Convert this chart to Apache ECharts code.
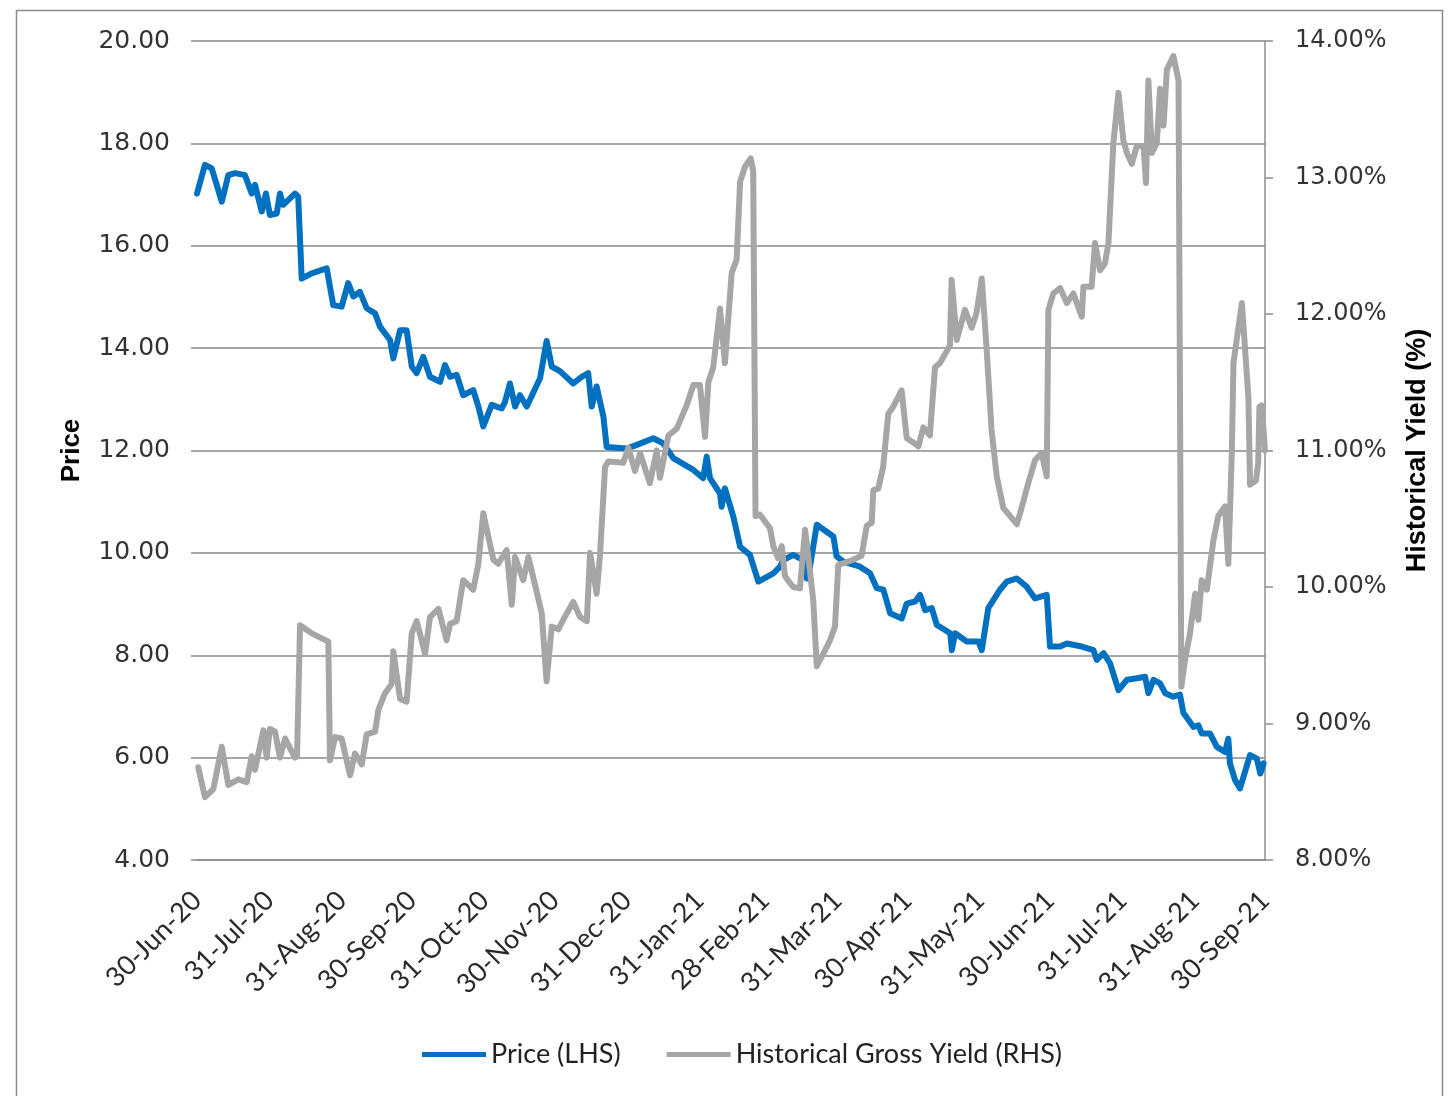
<!DOCTYPE html>
<html>
<head>
<meta charset="utf-8">
<script src="https://cdn.jsdelivr.net/npm/echarts@6/dist/echarts.min.js"></script>
<style>
html,body{margin:0;padding:0;background:#fff;}
#chart{width:1449px;height:1096px;}
</style>
</head>
<body>
<div id="chart"></div>
<script>
// Start date of the series (30-Jun-2020); x values are days after it
var startDate = '2020-06-30';

// Month-end tick dates and their labels
var tickDates = ['2020-06-30','2020-07-31','2020-08-31','2020-09-30','2020-10-31','2020-11-30','2020-12-31','2021-01-31','2021-02-28','2021-03-31','2021-04-30','2021-05-31','2021-06-30','2021-07-31','2021-08-31','2021-09-30'];
var tickLabels = ['30-Jun-20','31-Jul-20','31-Aug-20','30-Sep-20','31-Oct-20','30-Nov-20','31-Dec-20','31-Jan-21','28-Feb-21','31-Mar-21','30-Apr-21','31-May-21','30-Jun-21','31-Jul-21','31-Aug-21','30-Sep-21'];

// Price (LHS)
var priceDays = [0,3.4,6.3,10.6,13.4,16.3,20.5,23.4,24.8,27.7,29.5,31.2,34.1,35.5,36.9,41.9,43.3,44.8,49.1,55.5,58.3,61.9,64.7,66.9,69.7,72.6,76.2,78.3,82.6,84.0,86.9,89.7,91.9,94.0,96.8,99.7,104.0,106.1,108.3,111.1,113.9,118.2,120.4,122.5,126.1,130.4,131.8,133.9,136.1,138.2,141.1,146.8,149.6,151.8,155.3,161.0,164.6,167.4,168.9,171.0,173.9,175.3,183.9,188.2,195.3,199.5,203.8,212.4,216.6,218.1,219.5,223.8,224.5,225.9,229.5,232.4,236.6,240.2,246.6,249.5,250.9,255.1,259.4,260.9,262.3,265.2,272.3,273.7,276.6,281.6,283.7,288.0,290.9,293.7,296.6,301.6,303.7,307.3,309.4,311.6,314.4,316.6,322.3,323.0,324.4,329.4,334.4,335.8,338.6,343.6,346.5,350.8,355.0,358.6,363.6,365.0,369.3,372.2,378.6,383.6,385.0,387.9,390.7,394.3,397.9,402.1,405.7,407.1,409.3,412.1,414.3,417.8,420.6,422.1,426.4,428.5,430.0,433.5,436.4,439.9,441.3,442.0,444.2,446.3,450.6,453.5,455.0,456.4];
var priceValues = [17.02,17.58,17.51,16.86,17.38,17.42,17.38,17.02,17.19,16.67,17.02,16.60,16.63,17.02,16.80,17.02,16.96,15.36,15.46,15.56,14.84,14.81,15.27,15.01,15.10,14.78,14.68,14.42,14.16,13.80,14.35,14.35,13.64,13.51,13.83,13.44,13.34,13.67,13.44,13.48,13.08,13.18,12.86,12.47,12.89,12.82,12.95,13.31,12.86,13.08,12.86,13.41,14.14,13.64,13.55,13.31,13.44,13.51,12.86,13.25,12.66,12.07,12.04,12.11,12.24,12.14,11.85,11.62,11.46,11.88,11.46,11.16,10.90,11.26,10.71,10.12,9.96,9.44,9.60,9.73,9.86,9.96,9.86,9.50,9.73,10.55,10.32,9.93,9.83,9.76,9.73,9.60,9.31,9.28,8.82,8.72,9.01,9.05,9.18,8.88,8.92,8.59,8.43,8.10,8.43,8.27,8.27,8.10,8.92,9.28,9.44,9.50,9.34,9.11,9.18,8.17,8.17,8.23,8.17,8.10,7.91,8.04,7.84,7.32,7.52,7.55,7.58,7.26,7.52,7.45,7.26,7.19,7.23,6.87,6.60,6.63,6.47,6.47,6.21,6.11,6.37,5.89,5.56,5.40,6.05,5.98,5.69,5.89];

// Historical Gross Yield (RHS), in %
var yieldDays = [0.5,3.4,7.0,10.6,13.4,17.7,21.3,23.4,24.8,28.4,29.8,31.2,33.4,35.5,37.7,41.9,42.8,44.1,49.1,56.2,56.9,59.1,61.9,65.5,67.6,70.5,72.6,76.2,77.6,80.4,83.3,84.0,86.9,89.7,91.9,94.0,97.6,99.7,103.3,106.8,108.3,111.1,113.9,118.2,120.4,122.5,126.8,128.9,132.5,134.7,136.1,139.6,141.8,147.5,149.6,151.8,154.6,156.7,161.0,163.9,166.8,168.2,171.0,172.4,174.6,176.0,182.4,184.6,187.4,189.6,193.8,196.7,198.1,201.7,205.3,209.5,212.4,215.2,217.4,218.8,220.9,223.8,225.9,228.8,230.9,232.4,234.5,236.9,238.0,239.0,240.9,245.2,246.6,248.7,250.2,251.6,253.7,255.1,258.0,260.2,261.6,263.7,265.2,268.0,270.9,273.0,274.4,275.9,280.8,284.4,286.6,288.7,289.4,291.5,293.6,295.8,297.9,301.5,303.7,307.3,308.7,310.8,313.6,315.8,317.9,322.2,322.9,325.1,328.6,331.5,333.6,335.8,337.9,340.0,342.2,345.0,350.8,352.2,355.7,358.6,361.4,363.6,364.3,366.4,369.3,372.2,375.0,378.6,379.3,382.8,384.3,386.4,388.5,390.0,392.1,394.3,396.4,397.9,400.0,402.1,405.0,406.1,407.1,408.6,410.7,412.1,413.6,415.0,417.8,420.0,421.2,422.8,424.9,427.1,428.5,429.9,432.1,434.9,437.0,439.9,441.3,442.8,443.5,447.1,449.9,450.6,453.1,454.1,454.6,455.6,457.0];
var yieldValues = [8.68,8.46,8.52,8.83,8.55,8.59,8.57,8.76,8.66,8.95,8.75,8.96,8.94,8.75,8.89,8.75,8.76,9.72,9.66,9.60,8.73,8.90,8.89,8.62,8.78,8.70,8.92,8.94,9.10,9.22,9.29,9.53,9.18,9.16,9.66,9.75,9.51,9.78,9.84,9.61,9.73,9.75,10.05,9.98,10.17,10.54,10.20,10.17,10.27,9.87,10.22,10.05,10.22,9.81,9.31,9.71,9.69,9.76,9.89,9.78,9.75,10.25,9.95,10.22,10.88,10.92,10.91,11.02,10.85,10.98,10.76,11.00,10.80,11.11,11.16,11.33,11.48,11.48,11.10,11.50,11.61,12.04,11.64,12.30,12.40,12.97,13.08,13.14,13.05,10.52,10.53,10.43,10.30,10.21,10.30,10.08,10.03,10.00,9.99,10.42,10.22,9.90,9.42,9.51,9.61,9.71,10.16,10.17,10.20,10.23,10.45,10.47,10.71,10.72,10.88,11.27,11.32,11.44,11.09,11.05,11.03,11.17,11.11,11.61,11.64,11.77,12.25,11.81,12.03,11.90,12.01,12.26,11.74,11.15,10.81,10.58,10.46,10.54,10.76,10.93,10.98,10.81,12.03,12.15,12.19,12.08,12.15,11.98,12.20,12.20,12.52,12.32,12.37,12.52,13.25,13.62,13.27,13.18,13.10,13.23,13.23,12.96,13.71,13.18,13.25,13.65,13.38,13.79,13.89,13.71,9.27,9.47,9.66,9.95,9.76,10.05,9.98,10.34,10.52,10.59,10.17,10.98,11.64,12.08,11.39,10.75,10.78,10.91,11.32,11.33,11.00];

// Left axis ticks / right axis ticks
var priceAxis = {min: 4, max: 20, interval: 2};
var yieldAxis = {min: 8, max: 14, interval: 1};

function ts(s){ var p = s.split('-'); return Date.UTC(+p[0], +p[1]-1, +p[2]); }
var DAY = 86400000;
var t0 = ts(startDate);
// month-end positions in days after the start date
var tickDays = tickDates.map(function(s){ return Math.round((ts(s) - t0) / DAY); });

function build(days, vals){
  return days.map(function(d, i){ return [d, vals[i]]; });
}

var chart = echarts.init(document.getElementById('chart'));
var option = {
  backgroundColor: '#ffffff',
  animation: false,
  graphic: [{
    type: 'rect', left: 14, top: 8,
    shape: {width: 1426, height: 1100},
    style: {fill: 'none', stroke: '#8c8c8c', lineWidth: 1.5},
    silent: true
  }],
  grid: {left: 197, right: 184, top: 41, bottom: 236, containLabel: false},
  legend: {
    left: 417, top: 1036,
    itemWidth: 64, itemHeight: 5, itemGap: 46,
    icon: 'rect',
    textStyle: {fontFamily: 'Lato', fontSize: 27, color: '#222'},
    data: ['Price (LHS)', 'Historical Gross Yield (RHS)']
  },
  xAxis: {
    type: 'value',
    min: tickDays[0], max: tickDays[tickDays.length - 1],
    interval: 1,
    axisLine: {show: true, lineStyle: {color: '#8c8c8c', width: 1.5}},
    axisTick: {show: false},
    splitLine: {show: false},
    axisLabel: {
      rotate: 45,
      margin: 36,
      fontFamily: 'Lato', fontSize: 27, color: '#2a2a2a',
      hideOverlap: false,
      showMinLabel: true, showMaxLabel: true,
      formatter: function(v){
        var i = tickDays.indexOf(Math.round(v));
        return (i >= 0 && Math.abs(v - tickDays[i]) < 0.01) ? tickLabels[i] : '';
      }
    }
  },
  yAxis: [{
    type: 'value',
    min: priceAxis.min, max: priceAxis.max, interval: priceAxis.interval,
    position: 'left',
    name: 'Price', nameLocation: 'middle', nameGap: 112, nameRotate: 90,
    nameTextStyle: {fontFamily: 'Liberation Sans', fontWeight: 'bold', fontSize: 26, color: '#000'},
    axisLine: {show: false},
    axisTick: {show: true, length: 6, inside: false, lineStyle: {color: '#8c8c8c', width: 1.5}},
    splitLine: {show: true, lineStyle: {color: '#8a8a8a', width: 1.5}},
    axisLabel: {
      margin: 27, fontFamily: 'DejaVu Sans', fontSize: 25, color: '#333',
      formatter: function(v){ return v.toFixed(2); }
    }
  }, {
    type: 'value',
    min: yieldAxis.min, max: yieldAxis.max, interval: yieldAxis.interval,
    position: 'right',
    name: 'Historical Yield (%)', nameLocation: 'middle', nameGap: 139, nameRotate: 90,
    nameTextStyle: {fontFamily: 'Liberation Sans', fontWeight: 'bold', fontSize: 27, color: '#000'},
    axisLine: {show: true, lineStyle: {color: '#8c8c8c', width: 1.5}},
    axisTick: {show: true, length: 8, inside: false, lineStyle: {color: '#8c8c8c', width: 1.5}},
    splitLine: {show: false},
    axisLabel: {
      margin: 30, fontFamily: 'DejaVu Sans', fontSize: 24, color: '#333',
      formatter: function(v){ return v.toFixed(2) + '%'; }
    }
  }],
  series: [{
    name: 'Price (LHS)',
    type: 'line',
    yAxisIndex: 0,
    showSymbol: false,
    symbol: 'none',
    lineStyle: {color: '#0070C0', width: 6, join: 'round', cap: 'round'},
    itemStyle: {color: '#0070C0'},
    data: build(priceDays, priceValues)
  }, {
    name: 'Historical Gross Yield (RHS)',
    type: 'line',
    yAxisIndex: 1,
    showSymbol: false,
    symbol: 'none',
    lineStyle: {color: '#A6A6A6', width: 6, join: 'round', cap: 'round'},
    itemStyle: {color: '#A6A6A6'},
    data: build(yieldDays, yieldValues)
  }]
};
chart.setOption(option);
</script>
</body>
</html>
